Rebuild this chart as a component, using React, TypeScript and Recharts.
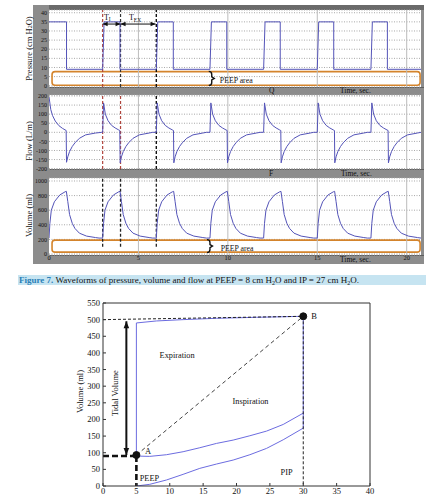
import React from "react";
import {
  ComposedChart,
  Line,
  XAxis,
  YAxis,
  CartesianGrid,
  ReferenceLine,
  ReferenceArea,
  ReferenceDot,
} from "recharts";

const FONT = "'Liberation Serif', 'DejaVu Serif', 'Times New Roman', serif";
const WAVE = "#5454b8";
const LOOP = "#6c6ce0";
const PEEP_BOX = "#d4842c";
const DASH_RED = "#b0443c";

// ---------- waveform figure (top) ----------
const timeDomain = [0, 20.8];
const timeTicks = [0, 5, 10, 15, 20];
const pressureTicks = [0, 5, 10, 15, 20, 25, 30, 35, 40];
const flowTicks = [-200, -150, -100, -50, 0, 50, 100, 150, 200];
const volumeTicks = [0, 200, 400, 600, 800, 1000];

// pressure (cm H2O), square wave
const pressureTime = [
  0, 0.98, 0.98, 3, 3.08, 3.97, 3.97, 6, 6.08, 6.95, 6.95, 9, 9.08, 9.94, 9.94,
  12, 12.08, 12.93, 12.93, 15, 15.08, 15.92, 15.92, 18, 18.08, 18.92, 18.92, 20.8,
];
const pressureValue = [
  35, 35, 9, 9, 35, 35, 9, 9, 35, 35, 9, 9, 35, 35, 9, 9, 35, 35, 9, 9, 35, 35,
  9, 9, 35, 35, 9, 9,
];

// flow (L/m): first breath, then one repeated breath shape
const flowFirstTime = [0, 0.1, 0.2, 0.35, 0.55, 0.75, 0.96, 0.98, 1.05, 1.15, 1.3, 1.45, 1.7, 2.05, 2.6, 2.95];
const flowFirstValue = [195, 125, 92, 62, 37, 22, 10, -165, -135, -106, -78, -58, -33, -14, -4, 0];
const flowCycleTime = [0, 0.05, 0.15, 0.3, 0.5, 0.7, 0.9, 0.96, 0.98, 1.05, 1.15, 1.3, 1.45, 1.7, 2.05, 2.6, 2.8];
const flowCycleValue = [0, 162, 100, 64, 38, 24, 13, 10, -168, -135, -106, -78, -58, -33, -14, -4, 0];
const breathStarts = [3, 6, 9, 12, 15, 18];

// volume (ml), one breath shape repeated
const volumeCycleTime = [0, 0.05, 0.13, 0.3, 0.6, 0.9, 0.97, 1.05, 1.15, 1.3, 1.45, 1.7, 2.1, 2.6, 2.8];
const volumeCycleValue = [218, 420, 600, 715, 808, 852, 858, 720, 540, 420, 350, 285, 245, 225, 218];
const volumeStarts = [0, 3, 6, 9, 12, 15, 18];

// T_I / T_EX marker times
const markerTimes = [3, 4, 6];
const arrowLevel = 33.8;
const tiArrow = [3, 4];
const texArrow = [4, 5.96];

// ---------- P-V loop (bottom) ----------
const pvXTicks = [0, 5, 10, 15, 20, 25, 30, 35, 40];
const pvYTicks = [0, 50, 100, 150, 200, 250, 300, 350, 400, 450, 500, 550];
const lowerX = [5, 7, 9.5, 12, 14.5, 17, 19.5, 22, 24.5, 27, 30];
const lowerY = [0, 5, 18, 35, 53, 66, 78, 94, 113, 139, 174];
const upperX = [5, 7, 9.5, 12, 14.5, 17, 19.5, 22, 24.5, 27, 30];
const upperY = [90, 89, 94, 103, 115, 128, 138, 151, 165, 185, 219];
const loopX = [5, 5, 8, 12, 17, 23, 30, 30];
const loopY = [90, 490, 496, 500, 504, 507, 510, 174];
const pointA = [5, 93];
const pointB = [30, 510];
const peepLevel = 90;
const tidalArrowX = 3.5;
const tidalArrowY = [93, 495];

type Pt = { t: number; v: number };
const zip = (t: number[], v: number[]): Pt[] => t.map((x, i) => ({ t: x, v: v[i] }));
const tile = (dt: number[], v: number[], starts: number[]): Pt[] =>
  starts.flatMap((s) => dt.map((d, i) => ({ t: s + d, v: v[i] })));
const xy = (xs: number[], ys: number[]) => xs.map((x, i) => ({ x, y: ys[i] }));

const pressureData = zip(pressureTime, pressureValue);
const flowData = [...zip(flowFirstTime, flowFirstValue), ...tile(flowCycleTime, flowCycleValue, breathStarts)];
const volumeData = tile(volumeCycleTime, volumeCycleValue, volumeStarts);

const rotatedTitle = (parts: React.ReactNode, x: number, dy: number) => (props: any) => {
  const vb = props.viewBox || { x: 0, y: 0, width: 0, height: 0 };
  const cx = vb.x + x;
  const cy = vb.y + vb.height / 2 + dy;
  return (
    <text
      x={cx}
      y={cy}
      transform={`rotate(-90 ${cx} ${cy})`}
      textAnchor="middle"
      dominantBaseline="central"
      fontSize={8.5}
      fontFamily={FONT}
      fill="#111"
    >
      {parts}
    </text>
  );
};

const hArrowDot = (p: any) => {
  const s = p.index === 0 ? 1 : -1;
  return (
    <polygon
      key={p.index}
      points={`${p.cx},${p.cy} ${p.cx + s * 5},${p.cy - 2.3} ${p.cx + s * 5},${p.cy + 2.3}`}
      fill="#111"
    />
  );
};

const vArrowDot = (p: any) => {
  const s = p.index === 0 ? -1 : 1;
  return (
    <polygon
      key={p.index}
      points={`${p.cx},${p.cy} ${p.cx - 2.8},${p.cy + s * 7} ${p.cx + 2.8},${p.cy + s * 7}`}
      fill="#111"
    />
  );
};

const textAt =
  (content: React.ReactNode, size = 8, anchor: "start" | "middle" | "end" = "middle", extra: any = {}) =>
  (p: any) =>
    (
      <text
        x={p.cx}
        y={p.cy}
        textAnchor={anchor}
        dominantBaseline="central"
        fontSize={size}
        fontFamily={FONT}
        fill="#111"
        {...extra}
      >
        {content}
      </text>
    );

const brace = (half: number) => (p: any) => {
  const { cx, cy } = p;
  return (
    <path
      d={`M${cx - 3},${cy - half} Q${cx},${cy - half} ${cx},${cy - half + 3} L${cx},${cy - 1.5} L${cx + 2.5},${cy} L${cx},${cy + 1.5} L${cx},${cy + half - 3} Q${cx},${cy + half} ${cx - 3},${cy + half}`}
      fill="none"
      stroke="#111"
      strokeWidth={1.4}
    />
  );
};

const peepRect = (p: any) => (
  <rect x={p.x} y={p.y} width={p.width} height={p.height} rx={3} fill="none" stroke={PEEP_BOX} strokeWidth={1.6} />
);

interface PanelProps {
  plotTop: number;
  plotHeight: number;
  xAxisHeight?: number;
  domain: number[];
  ticks: number[];
  data: Pt[];
  title: (p: any) => React.ReactElement;
  children?: React.ReactNode;
}

const PAD = 4;

function WavePanel({ plotTop, plotHeight, xAxisHeight = 0, domain, ticks, data, title, children }: PanelProps) {
  const bottom = xAxisHeight ? 0 : PAD;
  return (
    <div style={{ position: "absolute", left: 0, top: plotTop - PAD }}>
      <ComposedChart
        width={424}
        height={plotHeight + PAD + bottom + xAxisHeight}
        margin={{ top: PAD, right: 3, bottom, left: 0 }}
      >
        <CartesianGrid vertical={false} fill="#fff" stroke="#a8a8a8" strokeDasharray="1 1.5" />
        {timeTicks.slice(1).map((t) => (
          <ReferenceLine key={t} x={t} stroke="#bcbcbc" strokeWidth={1} />
        ))}
        <XAxis
          type="number"
          dataKey="t"
          domain={timeDomain}
          ticks={timeTicks}
          allowDataOverflow
          hide={!xAxisHeight}
          height={xAxisHeight || 1}
          axisLine={false}
          tickLine={false}
          tickSize={0}
          tickMargin={0}
          interval={0}
          tick={{ fontSize: 6.5, fill: "#111", fontFamily: FONT }}
        />
        <YAxis
          type="number"
          domain={domain}
          ticks={ticks}
          allowDataOverflow
          interval={0}
          width={49}
          axisLine={false}
          tickLine={false}
          tickSize={0}
          tickMargin={2}
          tick={{ fontSize: 6, fill: "#111", fontFamily: FONT }}
          label={title}
        />
        {children}
        <Line data={data} dataKey="v" type="linear" stroke={WAVE} strokeWidth={1} dot={false} isAnimationActive={false} />
      </ComposedChart>
    </div>
  );
}

const barText: React.CSSProperties = {
  position: "absolute",
  fontSize: 7.5,
  lineHeight: "8px",
  color: "#111",
  fontFamily: FONT,
  whiteSpace: "nowrap",
};

export default function App() {
  return (
    <div
      style={{
        position: "absolute",
        left: 0,
        top: 0,
        width: 432,
        height: 500,
        background: "#fff",
        fontFamily: FONT,
        overflow: "hidden",
      }}
    >
      {/* gray frame of the waveform figure */}
      <div style={{ position: "absolute", left: 33, top: 5, width: 391, height: 259, background: "#8c8c8c" }} />
      <div style={{ position: "absolute", left: 49, top: 5, width: 375, height: 5, background: "#6a6a6a" }} />
      <div style={{ position: "absolute", left: 49, top: 87, width: 375, height: 1, background: "#5e5e5e" }} />
      <div style={{ position: "absolute", left: 49, top: 169, width: 375, height: 1, background: "#5e5e5e" }} />
      <div style={{ position: "absolute", left: 49, top: 255, width: 375, height: 1, background: "#5e5e5e" }} />
      <div style={{ ...barText, left: 269, top: 87 }}>Q</div>
      <div style={{ ...barText, left: 340, top: 87 }}>Time, sec.</div>
      <div style={{ ...barText, left: 269, top: 170 }}>F</div>
      <div style={{ ...barText, left: 341, top: 170 }}>Time, sec.</div>
      <div style={{ ...barText, left: 340, top: 256 }}>Time, sec.</div>

      <WavePanel
        plotTop={10}
        plotHeight={77}
        domain={[-0.7, 41.5]}
        ticks={pressureTicks}
        data={pressureData}
        title={rotatedTitle(
          <>
            Pressure (cm H
            <tspan dy={1.8} fontSize={6}>
              2
            </tspan>
            <tspan dy={-1.8}>O)</tspan>
          </>,
          28.5,
          0
        )}
      >
        <ReferenceArea x1={0.17} x2={20.75} y1={0.3} y2={7.7} shape={peepRect} />
        <ReferenceDot x={9.1} y={4} r={0} shape={brace(7)} />
        <ReferenceDot x={9.55} y={3} r={0} shape={textAt("PEEP area", 7.8, "start")} />
        <ReferenceLine x={markerTimes[0]} stroke={DASH_RED} strokeDasharray="3 2" strokeWidth={1.2} />
        <ReferenceLine x={markerTimes[1]} stroke="#333" strokeDasharray="3 2" strokeWidth={1.2} />
        <ReferenceLine x={markerTimes[2]} stroke="#111" strokeDasharray="3 2" strokeWidth={1.4} />
        <Line
          data={tiArrow.map((t) => ({ t, v: arrowLevel }))}
          dataKey="v"
          stroke="#111"
          strokeWidth={1}
          dot={hArrowDot}
          isAnimationActive={false}
        />
        <Line
          data={texArrow.map((t) => ({ t, v: arrowLevel }))}
          dataKey="v"
          stroke="#111"
          strokeWidth={1}
          dot={hArrowDot}
          isAnimationActive={false}
        />
        <ReferenceDot
          x={3.07}
          y={37.5}
          r={0}
          shape={textAt(
            <>
              T
              <tspan dy={2} fontSize={5.5}>
                I
              </tspan>
            </>,
            8,
            "start"
          )}
        />
        <ReferenceDot
          x={4.47}
          y={37.5}
          r={0}
          shape={textAt(
            <>
              T
              <tspan dy={2.5} fontSize={5.5}>
                EX
              </tspan>
            </>,
            8,
            "start"
          )}
        />
      </WavePanel>

      <WavePanel
        plotTop={95}
        plotHeight={74}
        domain={[-202, 205.5]}
        ticks={flowTicks}
        data={flowData}
        title={rotatedTitle("Flow (L/m)", 29, 9)}
      >
        <ReferenceLine x={markerTimes[0]} stroke={DASH_RED} strokeDasharray="3 2" strokeWidth={1.2} />
        <ReferenceLine x={markerTimes[1]} stroke={DASH_RED} strokeDasharray="3 2" strokeWidth={1.2} />
        <ReferenceLine x={markerTimes[2]} stroke="#111" strokeDasharray="3 2" strokeWidth={1.4} />
      </WavePanel>

      <WavePanel
        plotTop={178}
        plotHeight={77}
        xAxisHeight={9}
        domain={[-14, 1041]}
        ticks={volumeTicks}
        data={volumeData}
        title={rotatedTitle("Volume (ml)", 29, -1)}
      >
        <ReferenceArea x1={0.17} x2={20.75} y1={25} y2={190} shape={peepRect} />
        <ReferenceDot x={9.0} y={108} r={0} shape={brace(6.5)} />
        <ReferenceDot x={9.6} y={73} r={0} shape={textAt("PEEP area", 7.8, "start")} />
        {markerTimes.map((t) => (
          <ReferenceLine
            key={t}
            segment={[
              { x: t, y: 100 },
              { x: t, y: 1041 },
            ]}
            stroke="#222"
            strokeDasharray="3 2"
            strokeWidth={1.3}
          />
        ))}
      </WavePanel>

      {/* caption */}
      <div
        style={{
          position: "absolute",
          left: 18,
          top: 275,
          width: 407,
          height: 10,
          background: "#c6e4f1",
          fontSize: 9,
          lineHeight: "10px",
          paddingLeft: 1,
          whiteSpace: "nowrap",
          color: "#111",
        }}
      >
        <span style={{ color: "#2a80b8", fontWeight: "bold" }}>Figure 7.</span> Waveforms of pressure, volume and flow
        at PEEP = 8 cm H<span style={{ fontSize: 6, position: "relative", top: 1.5 }}>2</span>O and IP = 27 cm H
        <span style={{ fontSize: 6, position: "relative", top: 1.5 }}>2</span>O.
      </div>

      {/* P-V loop */}
      <div style={{ position: "absolute", left: 0, top: 295 }}>
        <ComposedChart width={432} height={205} margin={{ top: 7, right: 61, bottom: 0, left: 0 }}>
          <XAxis
            type="number"
            dataKey="x"
            domain={[0, 40]}
            ticks={pvXTicks}
            allowDataOverflow
            interval={0}
            height={14}
            tickSize={-3}
            tickMargin={5}
            stroke="#333"
            tick={{ fontSize: 8.5, fill: "#111", fontFamily: FONT }}
          />
          <XAxis
            xAxisId="top"
            orientation="top"
            type="number"
            domain={[0, 40]}
            ticks={pvXTicks}
            interval={0}
            height={1}
            tickSize={-3}
            tick={false}
            stroke="#333"
          />
          <YAxis
            type="number"
            domain={[0, 550]}
            ticks={pvYTicks}
            allowDataOverflow
            interval={0}
            width={103}
            tickSize={-3}
            tickMargin={6}
            stroke="#333"
            tick={{ fontSize: 8.5, fill: "#111", fontFamily: FONT }}
            label={rotatedTitle("Volume (ml)", 80, -3)}
          />
          <YAxis
            yAxisId="right"
            orientation="right"
            type="number"
            domain={[0, 550]}
            ticks={pvYTicks}
            interval={0}
            width={1}
            tickSize={-3}
            tick={false}
            stroke="#333"
          />
          <Line data={xy(lowerX, lowerY)} dataKey="y" stroke={LOOP} strokeWidth={1} dot={false} isAnimationActive={false} />
          <Line data={xy(upperX, upperY)} dataKey="y" stroke={LOOP} strokeWidth={1} dot={false} isAnimationActive={false} />
          <Line data={xy(loopX, loopY)} dataKey="y" stroke={LOOP} strokeWidth={1} dot={false} isAnimationActive={false} />
          <ReferenceLine
            segment={[
              { x: 0, y: 500 },
              { x: pointB[0], y: pointB[1] },
            ]}
            stroke="#222"
            strokeDasharray="3 2"
          />
          <ReferenceLine
            segment={[
              { x: pointB[0], y: pointB[1] },
              { x: pointB[0], y: 0 },
            ]}
            stroke="#222"
            strokeDasharray="3 2"
          />
          <ReferenceLine
            segment={[
              { x: pointA[0], y: pointA[1] },
              { x: pointB[0], y: pointB[1] },
            ]}
            stroke="#444"
            strokeDasharray="4 3"
          />
          <ReferenceLine
            segment={[
              { x: 0, y: peepLevel },
              { x: pointA[0], y: peepLevel },
            ]}
            stroke="#111"
            strokeWidth={2.6}
            strokeDasharray="6 3"
          />
          <ReferenceLine
            segment={[
              { x: pointA[0], y: peepLevel },
              { x: pointA[0], y: 0 },
            ]}
            stroke="#111"
            strokeWidth={2.6}
            strokeDasharray="6 3"
          />
          <Line
            data={tidalArrowY.map((y) => ({ x: tidalArrowX, y }))}
            dataKey="y"
            stroke="#111"
            strokeWidth={2}
            dot={vArrowDot}
            isAnimationActive={false}
          />
          <ReferenceDot x={pointA[0]} y={pointA[1]} r={3.5} fill="#111" stroke="#111" />
          <ReferenceDot x={pointB[0]} y={pointB[1]} r={3.5} fill="#111" stroke="#111" />
          <ReferenceDot x={6.3} y={105} r={0} shape={textAt("A", 8.5, "start")} />
          <ReferenceDot x={31.2} y={510} r={0} shape={textAt("B", 8.5, "start")} />
          <ReferenceDot x={11.1} y={392} r={0} shape={textAt("Expiration", 8.3)} />
          <ReferenceDot x={22.1} y={254} r={0} shape={textAt("Inspiration", 8.3)} />
          <ReferenceDot x={5.5} y={24} r={0} shape={textAt("PEEP", 8.3, "start")} />
          <ReferenceDot x={27.5} y={40} r={0} shape={textAt("PIP", 8.3)} />
          <ReferenceDot
            x={1.75}
            y={279}
            r={0}
            shape={(p: any) => (
              <text
                x={p.cx}
                y={p.cy}
                transform={`rotate(-90 ${p.cx} ${p.cy})`}
                textAnchor="middle"
                dominantBaseline="central"
                fontSize={8.5}
                fontFamily={FONT}
                fill="#111"
              >
                Tidal Volume
              </text>
            )}
          />
        </ComposedChart>
      </div>
    </div>
  );
}
